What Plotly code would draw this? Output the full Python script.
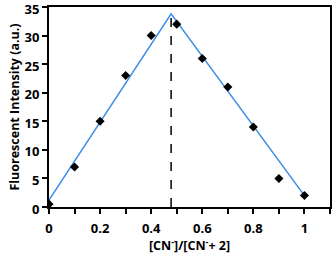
import plotly.graph_objects as go

x_vals = [0, 0.1, 0.2, 0.3, 0.4, 0.5, 0.6, 0.7, 0.8, 0.9, 1.0]
y_vals = [0.5, 7, 15, 23, 30, 32, 26, 21, 14, 5, 2]
fit_x = [0, 0.478, 1.0]
fit_y = [1.2, 33.8, 2.0]
peak_x = [0.478, 0.478]
peak_y = [0, 33.8]
x_tickvals = [0, 0.1, 0.2, 0.3, 0.4, 0.5, 0.6, 0.7, 0.8, 0.9, 1.0, 1.1]
x_ticktext = ["0", "", "0.2", "", "0.4", "", "0.6", "", "0.8", "", "1", ""]
y_tickvals = [0, 5, 10, 15, 20, 25, 30, 35]

font = "Open Sans"
fig = go.Figure()
fig.add_trace(go.Scatter(x=peak_x, y=peak_y, mode="lines",
                         line=dict(color="black", width=1.5, dash="dash")))
fig.add_trace(go.Scatter(x=fit_x, y=fit_y, mode="lines",
                         line=dict(color="#3a8ee6", width=1.5)))
fig.add_trace(go.Scatter(x=x_vals, y=y_vals, mode="markers",
                         marker=dict(symbol="diamond", color="black", size=7)))

fig.update_layout(
    width=333, height=254,
    margin=dict(l=49, r=3, t=7, b=47),
    plot_bgcolor="white", paper_bgcolor="white",
    showlegend=False,
    font=dict(family=font, color="black"),
)
fig.update_xaxes(
    range=[0, 1.1], tickvals=x_tickvals, ticktext=x_ticktext,
    ticks="outside", ticklen=5, tickwidth=1.5, tickcolor="black",
    showline=True, linecolor="black", linewidth=2, mirror=True,
    showgrid=False, zeroline=False, automargin=False,
    ticklabelstandoff=3,
    tickfont=dict(size=13, family=font, weight="bold"),
    title=dict(text="[CN<sup>-</sup>]/[CN<sup>-</sup>+ 2]",
               font=dict(size=12.5, family=font, weight="bold"), standoff=2),
)
fig.update_yaxes(
    range=[0, 35], tickvals=y_tickvals,
    ticks="outside", ticklen=5, tickwidth=1.5, tickcolor="black",
    showline=True, linecolor="black", linewidth=2, mirror=True,
    showgrid=False, zeroline=False, automargin=False,
    ticklabeloverflow="allow", ticklabelshift=2,
    tickfont=dict(size=13, family=font, weight="bold"),
    title=dict(text="Fluorescent Intensity (a.u.)",
               font=dict(size=12.5, family=font, weight="bold"), standoff=2),
)
fig.write_html("out.html", config={"displayModeBar": False},
               post_script="document.body.style.margin='0';document.body.style.overflow='hidden';")
